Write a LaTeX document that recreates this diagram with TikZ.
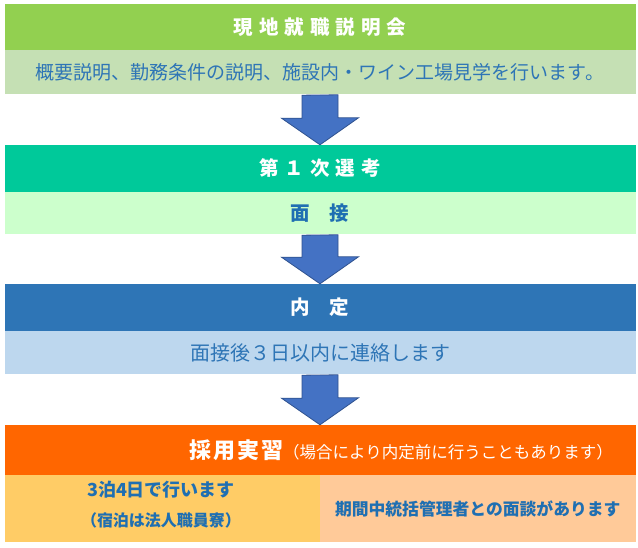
\documentclass[tikz,border=0pt]{standalone}
\usepackage{fontspec}
\setmainfont{Noto Sans CJK JP}
\usetikzlibrary{calc}
\definecolor{hGreen}{HTML}{92D050}
\definecolor{sGreen}{HTML}{C5E0B4}
\definecolor{hTeal}{HTML}{00C99A}
\definecolor{sTeal}{HTML}{CCFFCC}
\definecolor{hBlue}{HTML}{2E75B6}
\definecolor{sBlue}{HTML}{BDD7EE}
\definecolor{hOrange}{HTML}{FF6600}
\definecolor{bYellow}{HTML}{FFCC66}
\definecolor{bPeach}{HTML}{FFCA99}
\definecolor{txtBlue}{HTML}{2E75B6}
\definecolor{txtBlueB}{HTML}{1F6FB2}
\definecolor{arrFill}{HTML}{4472C4}
\definecolor{arrEdge}{HTML}{2F528F}
\newcommand\gp{\hspace{6pt}}
\tikzset{
  band/.style={rectangle, inner sep=0pt, minimum width=631pt, text=white, font=\fontsize{19.5}{22}\selectfont\bfseries},
  subband/.style={rectangle, inner sep=0pt, minimum width=631pt},
  halfbox/.style={rectangle, inner sep=0pt, minimum width=315.5pt, minimum height=67pt, text=txtBlueB, align=center},
  boxtext/.style={inner sep=0pt, text=txtBlueB},
  bigarrow/.style={fill=arrFill, draw=arrEdge, line width=0.8pt, line join=miter}
}
\begin{document}
\begin{tikzpicture}[x=1pt,y=-1pt]
\useasboundingbox (0,0) rectangle (638,548);
\fill[white] (0,0) rectangle (638,548);
% band 1
\node[band, fill=hGreen, minimum height=46pt] (h1) at (320,27) {現\gp 地\gp 就\gp 職\gp 説\gp 明\gp 会};
\node[subband, fill=sGreen, minimum height=44pt, text=txtBlue, font=\fontsize{19}{22}\selectfont] (s1) at (320,72) {概要説明、勤務条件の説明、施設内・ワイン工場見学を行います。};
% band 2
\node[band, fill=hTeal, minimum height=47pt] (h2) at (320,168.5) {第\gp １\gp 次\gp 選\gp 考};
\node[subband, fill=sTeal, minimum height=42pt, text=txtBlueB, font=\fontsize{19.5}{22}\selectfont\bfseries] (s2) at (320,213) {面　接};
% band 3
\node[band, fill=hBlue, minimum height=47pt] (h3) at (320,307.5) {内　定};
\node[subband, fill=sBlue, minimum height=43pt, text=txtBlue, font=\fontsize{20}{24}\selectfont] (s3) at (320,352.5) {面接後３日以内に連絡します};
% band 4
\node[subband, fill=hOrange, minimum height=50pt] (h4) at (320,450) {};
\node[anchor=west, inner sep=0pt, text=white] (h4t) at (189,450) {{\fontsize{22}{26}\selectfont\bfseries 採\hspace{2pt}用\hspace{2pt}実\hspace{2pt}習}{\fontsize{16.5}{20}\selectfont （場合により内定前に行うこともあります）}};
\node[halfbox, fill=bYellow] (b1) at (162.25,508.5) {};
\node[boxtext, font=\fontsize{18}{22}\selectfont\bfseries] (b1a) at (161,490) {3泊4日で行います};
\node[boxtext, font=\fontsize{16}{20}\selectfont\bfseries] (b1b) at (161,520) {（宿泊は法人職員寮）};
\node[halfbox, fill=bPeach] (b2) at (477.75,508.5) {\fontsize{16.8}{20}\selectfont\bfseries 期間中統括管理者との面談があります};
% arrows
\draw[bigarrow] (s1.south) ++(-18,1) -- ++(0,23) -- ++(-20.5,0) -- (h2.north) -- ++(38.5,-27) -- ++(-20.5,0) -- ++(0,-23) -- cycle;
\draw[bigarrow] (s2.south) ++(-18,1) -- ++(0,22) -- ++(-20.5,0) -- (h3.north) -- ++(38.5,-27) -- ++(-20.5,0) -- ++(0,-22) -- cycle;
\draw[bigarrow] (s3.south) ++(-18,1) -- ++(0,23) -- ++(-20.5,0) -- (h4.north) -- ++(38.5,-27) -- ++(-20.5,0) -- ++(0,-23) -- cycle;
\end{tikzpicture}
\end{document}
